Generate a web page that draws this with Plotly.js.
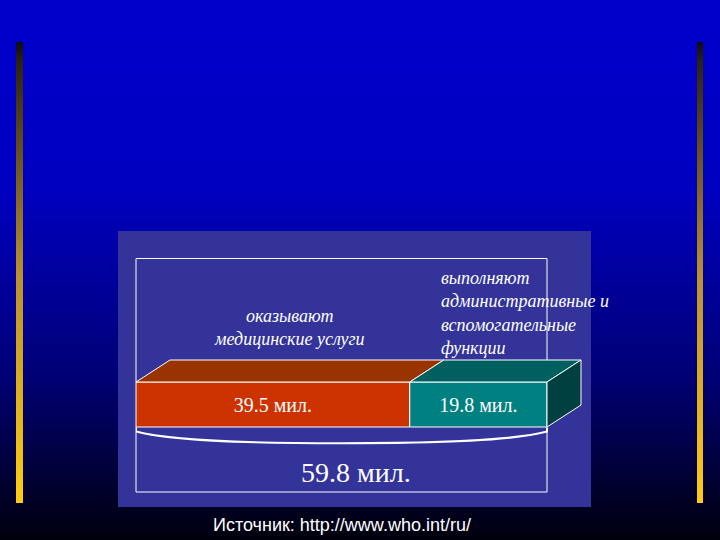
<!DOCTYPE html>
<html>
<head>
<meta charset="utf-8">
<script src="https://cdn.plot.ly/plotly-3.0.1.min.js"></script>
<style>html,body{margin:0;padding:0;background:#000;}#chart{width:720px;height:540px;}</style>
</head>
<body>
<div id="chart"></div>
<script>
// ---- data ----
const categories = ['оказывают<br>медицинские услуги', 'выполняют<br>административные и<br>вспомогательные<br>функции'];
const values = [39.5, 19.8];
const valueLabels = ['39.5 мил.', '19.8 мил.'];
const totalLabel = '59.8 мил.';
const sourceText = 'Источник: http://www.who.int/ru/';

// ---- styles ----
const frontColors = ['#cc3300', '#008080'];
const topColors = ['#993300', '#006060'];
const sideColor = '#004040';
const W = 720, H = 540;

const T = values.reduce((a, b) => a + b, 0);
const frontLeftPx = 136, frontRightPx = 547;
const pxPerUnit = (frontRightPx - frontLeftPx) / T;
const xDomRightPx = 600;
const xMax = (xDomRightPx - frontLeftPx) / pxPerUnit;
const dx = 34 / pxPerUnit;          // depth offset in x units
const barPx = 45;                   // front face height in px
const dy = 22 / barPx;              // depth offset in y units
const yTopPx = 350, yBotPx = 450, barBottomPx = 427;
const yRange = [-(yBotPx - barBottomPx) / barPx, (barBottomPx - yTopPx) / barPx];

const traces = [];
let start = 0;
values.forEach((v, i) => {
  traces.push({
    type: 'bar', orientation: 'h', y: [0.5], x: [v], base: [start], width: [1],
    marker: {color: frontColors[i], line: {color: '#ffffff', width: 1}},
    text: [valueLabels[i]], textposition: 'inside', insidetextanchor: 'middle',
    textangle: 0, textfont: {family: 'Liberation Serif', size: 20, color: '#ffffff'},
    hoverinfo: 'skip', showlegend: false
  });
  const e = start + v;
  traces.push({
    type: 'scatter', mode: 'lines', fill: 'toself', fillcolor: topColors[i],
    x: [start, e, e + dx, start + dx, start], y: [1, 1, 1 + dy, 1 + dy, 1],
    line: {color: '#ffffff', width: 1}, hoverinfo: 'skip', showlegend: false
  });
  start = e;
});
traces.push({
  type: 'scatter', mode: 'lines', fill: 'toself', fillcolor: sideColor,
  x: [T, T + dx, T + dx, T, T], y: [0, dy, 1 + dy, 1, 0],
  line: {color: '#ffffff', width: 1}, hoverinfo: 'skip', showlegend: false
});

const bgSvg = `<svg xmlns="http://www.w3.org/2000/svg" width="720" height="540" viewBox="0 0 720 540" preserveAspectRatio="none">
<defs>
<linearGradient id="bg" x1="0" y1="0" x2="0" y2="1">
<stop offset="0" stop-color="#0000cc"/><stop offset="0.35" stop-color="#0000c0"/>
<stop offset="0.7" stop-color="#000074"/><stop offset="1" stop-color="#00000c"/>
</linearGradient>
<linearGradient id="gold" x1="0" y1="0" x2="0" y2="1">
<stop offset="0" stop-color="#0e0a10"/><stop offset="0.04" stop-color="#2a2010"/>
<stop offset="0.5" stop-color="#b89030"/><stop offset="1" stop-color="#ffcc11"/>
</linearGradient>
</defs>
<rect x="0" y="0" width="720" height="540" fill="url(#bg)"/>
<rect x="16" y="42" width="7" height="461" fill="url(#gold)"/>
<rect x="697" y="42" width="6" height="461" fill="url(#gold)"/>
</svg>`;
const bgUri = 'data:image/svg+xml;base64,' + btoa(bgSvg);

const py = p => 1 - p / H;
const px = p => p / W;

// brace path under the bar, spanning the total
const b0 = -0.02, b1 = -0.1, b2 = -0.36;
const bracePath = `M 0,${b0} L 0,${b1} C ${0.08*T},${b2+0.06} ${0.25*T},${b2} ${0.5*T},${b2} ` +
  `C ${0.75*T},${b2} ${0.92*T},${b2+0.06} ${T},${b1} L ${T},${b0}`;

const layout = {
  width: W, height: H,
  margin: {l: 0, r: 0, t: 0, b: 0},
  paper_bgcolor: '#000000', plot_bgcolor: 'rgba(0,0,0,0)',
  barmode: 'overlay', showlegend: false,
  xaxis: {domain: [px(frontLeftPx), px(xDomRightPx)], range: [0, xMax], visible: false, fixedrange: true},
  yaxis: {domain: [py(yBotPx), py(yTopPx)], range: yRange, visible: false, fixedrange: true},
  images: [{source: bgUri, xref: 'paper', yref: 'paper', x: 0, y: 1, sizex: 1, sizey: 1,
            sizing: 'stretch', xanchor: 'left', yanchor: 'top', layer: 'below'}],
  shapes: [
    {type: 'rect', xref: 'paper', yref: 'paper', x0: px(118), x1: px(591), y0: py(507), y1: py(231),
     fillcolor: '#333399', line: {width: 0}, layer: 'below'},
    {type: 'rect', xref: 'paper', yref: 'paper', x0: px(136), x1: px(547), y0: py(492), y1: py(258.5),
     fillcolor: 'rgba(0,0,0,0)', line: {color: '#ffffff', width: 1}, layer: 'below'},
    {type: 'path', xref: 'x', yref: 'y', path: bracePath, line: {color: '#ffffff', width: 2}}
  ],
  annotations: [
    {text: categories[0], xref: 'x', yref: 'paper', x: values[0] / 2 + dx / 2, y: py(327.5),
     xanchor: 'center', yanchor: 'middle', align: 'center', showarrow: false,
     font: {family: 'Liberation Serif', size: 18, style: 'italic', color: '#ffffff'}},
    {text: categories[1], xref: 'x', yref: 'paper', x: values[0] + dx, xshift: -5, y: py(312.5),
     xanchor: 'left', yanchor: 'middle', align: 'left', showarrow: false,
     font: {family: 'Liberation Serif', size: 18, style: 'italic', color: '#ffffff'}},
    {text: totalLabel, xref: 'paper', yref: 'paper', x: px(356), y: py(472),
     xanchor: 'center', yanchor: 'middle', showarrow: false,
     font: {family: 'Liberation Serif', size: 28, color: '#ffffff'}},
    {text: sourceText, xref: 'paper', yref: 'paper', x: px(211), y: py(525),
     xanchor: 'left', yanchor: 'middle', showarrow: false,
     font: {family: 'Liberation Sans', size: 18, color: '#ffffff'}}
  ]
};

Plotly.newPlot('chart', traces, layout, {staticPlot: true, displayModeBar: false});
</script>
</body>
</html>
